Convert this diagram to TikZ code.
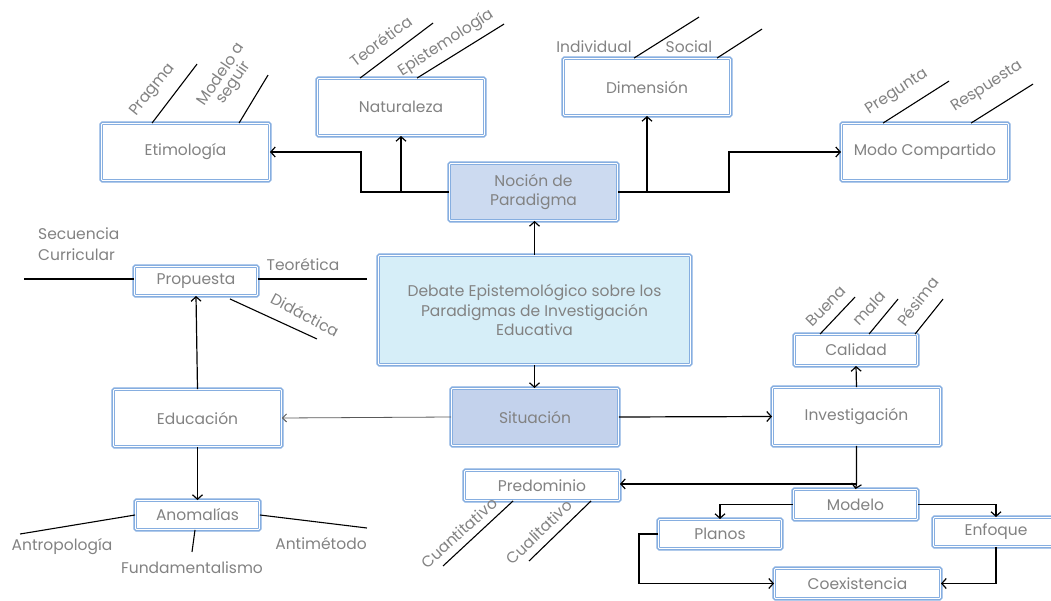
\documentclass[tikz,border=0pt]{standalone}
\usepackage{fontspec}
\setmainfont{Poppins}
\usetikzlibrary{arrows.meta,calc}
\definecolor{boxblue}{HTML}{86AEE0}
\definecolor{txtgray}{HTML}{828282}
\definecolor{nocionfill}{HTML}{CCDAF0}
\definecolor{situfill}{HTML}{C3D2EC}
\definecolor{debatefill}{HTML}{D6EEF8}
\begin{document}
\begin{tikzpicture}[x=1pt,y=-1pt,
  box/.style={draw=boxblue, line width=0.9pt, double=white, double distance=0.8pt,
    preaction={draw=boxblue, line width=4.2pt},
    rounded corners=1pt, fill=white, text=txtgray, align=center,
    font=\fontsize{15.5}{19.5}\selectfont, inner sep=0pt},
  lbl/.style={text=txtgray, font=\fontsize{15.5}{19}\selectfont, inner sep=0pt, align=left},
  link/.style={black, line width=1.2pt, -{Straight Barb[length=4.5pt,width=10pt,line width=1.2pt]}},
  thinlink/.style={black!65, line width=0.8pt, -{Straight Barb[length=4pt,width=8pt,line width=0.9pt]}},
  tick/.style={black, line width=1.1pt}
]
\useasboundingbox (0,0) rectangle (1051,601);
\clip (0,0) rectangle (1051,601);

% boxes
\node[box, minimum width=168, minimum height=57] (etim) at (185.5,152) {Etimología};
\node[box, minimum width=167, minimum height=57] (natur) at (401,107) {Naturaleza};
\node[box, minimum width=167, minimum height=57] (dimen) at (647,87) {Dimensión};
\node[box, minimum width=167, minimum height=57] (modo) at (925,152) {Modo Compartido};
\node[box, minimum width=168, minimum height=57, fill=nocionfill] (nocion) at (533.5,192) {Noción de\\Paradigma};
\node[box, minimum width=312, minimum height=109, fill=debatefill] (debate) at (534.5,310)
  {Debate Epistemológico sobre los\\Paradigmas de Investigación\\Educativa};
\node[box, minimum width=167, minimum height=57, fill=situfill] (situ) at (535,417) {Situación};
\node[box, minimum width=123, minimum height=29] (prop) at (196,281) {Propuesta};
\node[box, minimum width=168, minimum height=57] (educ) at (197.5,418) {Educación};
\node[box, minimum width=124, minimum height=29] (anom) at (197.5,515) {Anomalías};
\node[box, minimum width=155, minimum height=30] (pred) at (542,485.5) {Predominio};
\node[box, minimum width=123, minimum height=31] (calid) at (856,350) {Calidad};
\node[box, minimum width=168, minimum height=58] (inves) at (856.5,416.5) {Investigación};
\node[box, minimum width=124, minimum height=30] (model) at (855.5,504.5) {Modelo};
\node[box, minimum width=123, minimum height=29] (planos) at (720,534) {Planos};
\node[box, minimum width=125, minimum height=29] (enfoq) at (996,532) {Enfoque};
\node[box, minimum width=166, minimum height=30] (coex) at (857.5,583.5) {Coexistencia};

% connectors
\draw[link] (nocion.west) -- ++(-88,0) |- (etim.east);
\draw[link] (natur.south |- nocion.west) -- (natur.south);
\draw[link] (nocion.east) -- ++(111,0) |- (modo.west);
\draw[link] (dimen.south |- nocion.east) -- (dimen.south);
\draw[link] (debate.north) -- (debate.north |- nocion.south);
\draw[link] (debate.south) -- (debate.south |- situ.north);
\draw[thinlink] (situ.west) -- (educ.east);
\draw[link] (situ.east) -- (inves.west);
\draw[link] (educ.north) -- (prop.south);
\draw[link] (educ.south) -- (anom.north);
\draw[link] (inves.north) -- (calid.south);
\draw[link] (inves.south) -- ++(0,38) coordinate (jn) -- (model.north);
\draw[link] (jn) -- (jn -| pred.east);
\draw[link] (model.west) -| (planos.north);
\draw[link] (model.east) -| (enfoq.north);
\draw[link] (planos.west) -- ++(-19,0) |- (coex.west);
\draw[link] (enfoq.south) |- (coex.east);

% branch strokes
\draw[tick] ([xshift=51pt]etim.north west) -- ++(45,-59);
\draw[tick] ([xshift=138pt]etim.north west) -- ++(29,-48);
\draw[tick] ([xshift=43pt]natur.north west) -- ++(73,-55);
\draw[tick] ([xshift=100pt]natur.north west) -- ++(87,-54);
\draw[tick] ([xshift=71pt]dimen.north west) -- ++(65,-41);
\draw[tick] ([xshift=154pt]dimen.north west) -- ++(45,-29);
\draw[tick] ([xshift=42pt]modo.north west) -- ++(66,-42);
\draw[tick] ([xshift=130pt]modo.north west) -- ++(62,-39);
\draw[tick] ([yshift=2pt]prop.west) -- ++(-110,0);
\draw[tick] ([yshift=2pt]prop.east) -- ++(109,0);
\draw[tick] ([xshift=-28pt,yshift=-3pt]prop.south east) -- ++(87,40);
\draw[tick] (anom.west) -- ++(-115,19);
\draw[tick] ([xshift=-2.5pt]anom.south) -- ++(-3,22);
\draw[tick] (anom.east) -- ++(107,13);
\draw[tick] ([xshift=49pt]pred.south west) -- ++(-70,65);
\draw[tick] ([xshift=127pt]pred.south west) -- ++(-62,60);
\draw[tick] ([xshift=26pt]calid.north west) -- ++(35,-37);
\draw[tick] ([xshift=75pt]calid.north west) -- ++(29,-35);
\draw[tick] ([xshift=121pt]calid.north west) -- ++(28,-35);

% branch labels
\node[lbl, rotate=51] (l1) at (153,90) {Pragma};
\node[lbl, rotate=56, align=center, font=\fontsize{15.5}{15}\selectfont] (l2) at (228,79) {Modelo a\\seguir};
\node[lbl, rotate=37] (l3) at (381,41) {Teorética};
\node[lbl, rotate=33] (l4) at (446,43) {Epistemología};
\node[lbl] (l5) at (594,47) {Individual};
\node[lbl] (l6) at (689,47) {Social};
\node[lbl, rotate=33] (l7) at (897,92) {Pregunta};
\node[lbl, rotate=33] (l8) at (987,87) {Respuesta};
\node[lbl, anchor=north west, font=\fontsize{15.5}{21}\selectfont] (l9) at (38,228) {Secuencia\\Curricular};
\node[lbl] (l10) at (303,265) {Teorética};
\node[lbl, rotate=-28] (l11) at (305,315) {Didáctica};
\node[lbl] (l12) at (62,547) {Antropología};
\node[lbl] (l13) at (192,568) {Fundamentalismo};
\node[lbl] (l14) at (321,544) {Antimétodo};
\node[lbl, rotate=42] (l15) at (459,533) {Cuantitativo};
\node[lbl, rotate=44] (l16) at (539,532) {Cualitativo};
\node[lbl, rotate=45] (l17) at (826,306) {Buena};
\node[lbl, rotate=47] (l18) at (869,308) {mala};
\node[lbl, rotate=52] (l19) at (918,301) {Pésima};
\end{tikzpicture}
\end{document}
